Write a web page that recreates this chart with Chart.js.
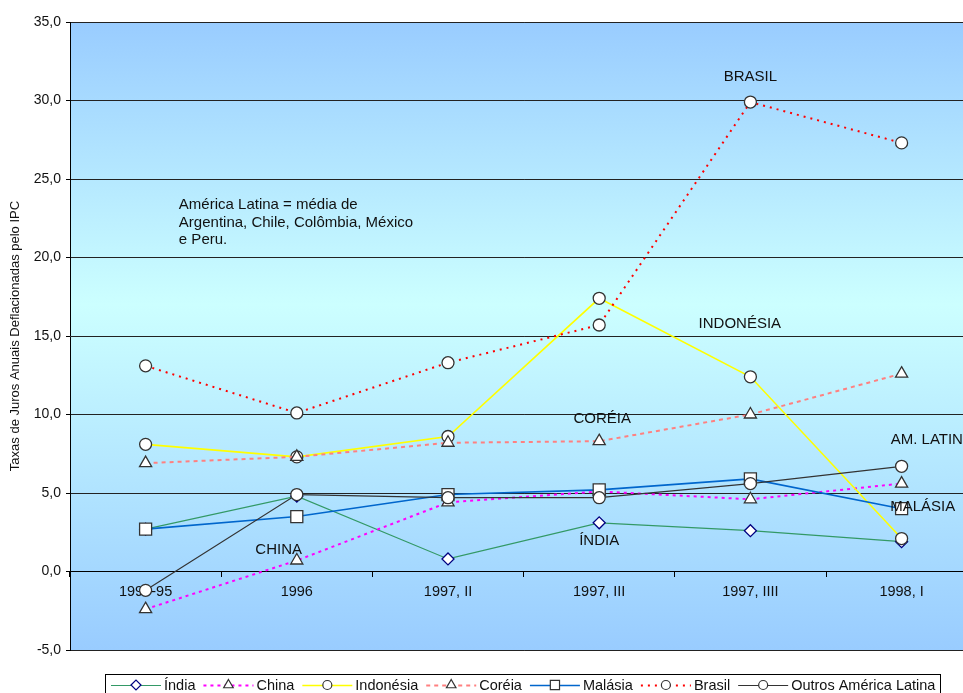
<!DOCTYPE html>
<html>
<head>
<meta charset="utf-8">
<script src="https://cdn.jsdelivr.net/npm/chart.js@4.4.0/dist/chart.umd.min.js"></script>
<style>
  html, body { margin: 0; padding: 0; background: #fff; overflow: hidden; }
  #wrap { width: 987px; height: 693px; }
</style>
</head>
<body>
<div id="wrap"><canvas id="chart" width="987" height="693"></canvas></div>
<script>
// Taxas de juros anuais deflacionadas pelo IPC, 1990-95 a 1998 I

const periods = ['1990-95', '1996', '1997, II', '1997, III', '1997, IIII', '1998, I'];

const india     = [2.7, 4.8, 0.8, 3.1, 2.6, 1.9];
const china     = [-2.4, 0.7, 4.4, 5.1, 4.6, 5.6];
const indonesia = [8.1, 7.3, 8.6, 17.4, 12.4, 2.1];
const coreia    = [6.9, 7.3, 8.2, 8.3, 10.0, 12.6];
const malasia   = [2.7, 3.5, 4.9, 5.2, 5.9, 4.0];
const brasil    = [13.1, 10.1, 13.3, 15.7, 29.9, 27.3];
const outrosAL  = [-1.2, 4.9, 4.7, 4.7, 5.6, 6.7];

// text boxes inside the plot, anchored on category index / value
const notes = [
  { text: 'BRASIL', x: 4, y: 31.5 },
  { text: 'INDONÉSIA', x: 3.93, y: 15.75 },
  { text: 'CORÉIA', x: 3.02, y: 9.75 },
  { text: 'AM. LATINA', x: 5.2, y: 8.4 },
  { text: 'MALÁSIA', x: 5.14, y: 4.1 },
  { text: 'ÍNDIA', x: 3.0, y: 1.95 },
  { text: 'CHINA', x: 0.88, y: 1.4 }
];
const note = ['América Latina = média de', 'Argentina, Chile, Colômbia, México', 'e Peru.'];

const FONT = 'Liberation Sans, Arial, sans-serif';

function series(label, data, color, opts) {
  return Object.assign({
    label: label,
    data: data,
    borderColor: color,
    backgroundColor: color,
    borderWidth: 1.2,
    pointRadius: 6,
    pointHoverRadius: 6,
    pointBackgroundColor: '#fff',
    pointBorderColor: '#333',
    pointBorderWidth: 1.3,
    pointStyle: 'circle',
    legendRadius: 4.5,
    tension: 0
  }, opts);
}

const datasets = [
  series('Índia', india, '#339966', { pointStyle: 'rectRot', pointRadius: 6, pointHoverRadius: 6, pointBorderColor: '#000080', legendRadius: 5 }),
  series('China', china, '#FF00FF', { borderWidth: 2, borderDash: [3, 4], pointStyle: 'triangle', pointRadius: 7, pointHoverRadius: 7, legendRadius: 5.5 }),
  series('Indonésia', indonesia, '#FFFF00', { borderWidth: 1.6 }),
  series('Coréia', coreia, '#FF8080', { borderWidth: 2, borderDash: [4, 4], pointStyle: 'triangle', pointRadius: 7, pointHoverRadius: 7, legendRadius: 5.5 }),
  series('Malásia', malasia, '#0066CC', { borderWidth: 1.6, pointStyle: 'rect', pointRadius: 8.5, pointHoverRadius: 8.5, legendRadius: 6.5 }),
  series('Brasil', brasil, '#FF0000', { borderWidth: 2, borderDash: [2, 5] }),
  series('Outros América Latina', outrosAL, '#333333', {})
];
// later series on top, like the original
datasets.forEach((d, i) => { d.order = datasets.length - i; });

const bgPlugin = {
  id: 'bg',
  beforeDraw(chart) {
    const { ctx, chartArea: a } = chart;
    const g = ctx.createLinearGradient(0, a.top, 0, a.bottom);
    g.addColorStop(0, '#99CCFF');
    g.addColorStop(0.45, '#CCFFFF');
    g.addColorStop(1, '#99CCFF');
    ctx.save();
    ctx.fillStyle = g;
    ctx.fillRect(a.left, a.top, a.right - a.left, a.bottom - a.top);
    ctx.restore();
  }
};

const textPlugin = {
  id: 'texts',
  afterDatasetsDraw(chart) {
    const { ctx, scales } = chart;
    const x = scales.x, y = scales.y;
    const step = x.getPixelForValue(1) - x.getPixelForValue(0);
    ctx.save();
    ctx.font = '15px ' + FONT;
    ctx.fillStyle = '#111';
    ctx.textBaseline = 'middle';
    ctx.textAlign = 'center';
    notes.forEach(n => {
      ctx.fillText(n.text, x.getPixelForValue(0) + n.x * step, y.getPixelForValue(n.y));
    });
    ctx.textAlign = 'left';
    const nx = x.getPixelForValue(0) + 0.22 * step;
    note.forEach((t, i) => ctx.fillText(t, nx, y.getPixelForValue(23.35) + i * 17.7));
    ctx.restore();
  }
};

const legendPlugin = {
  id: 'boxLegend',
  afterDraw(chart) {
    const ctx = chart.ctx;
    const sample = 50, gapIn = 3, gapOut = 8;
    const cy = 685;
    ctx.save();
    ctx.font = '14.5px ' + FONT;
    ctx.strokeStyle = '#000';
    ctx.lineWidth = 1;
    ctx.strokeRect(105.5, 674.5, 835, 30);
    let x = 111;
    datasets.forEach(d => {
      ctx.save();
      ctx.strokeStyle = d.borderColor;
      ctx.lineWidth = d.borderWidth;
      ctx.setLineDash(d.borderDash || []);
      ctx.beginPath();
      ctx.moveTo(x, cy + 0.5);
      ctx.lineTo(x + sample, cy + 0.5);
      ctx.stroke();
      ctx.setLineDash([]);
      ctx.fillStyle = '#fff';
      ctx.strokeStyle = d.pointBorderColor;
      ctx.lineWidth = 1.2;
      Chart.helpers.drawPoint(ctx, { pointStyle: d.pointStyle, radius: d.legendRadius, rotation: 0, borderWidth: 1.2 }, x + sample / 2, cy);
      ctx.restore();
      x += sample + gapIn;
      ctx.fillStyle = '#111';
      ctx.textBaseline = 'middle';
      ctx.textAlign = 'left';
      ctx.fillText(d.label, x, cy + 1);
      x += ctx.measureText(d.label).width + gapOut;
    });
    ctx.restore();
  }
};

new Chart(document.getElementById('chart'), {
  type: 'line',
  data: { labels: periods, datasets: datasets },
  plugins: [bgPlugin, textPlugin, legendPlugin],
  options: {
    responsive: false,
    animation: false,
    layout: { padding: { top: 22, bottom: 43, left: 0, right: 0 } },
    plugins: { legend: { display: false }, tooltip: { enabled: false } },
    scales: {
      x: {
        type: 'category',
        offset: true,
        position: { y: 0 },
        grid: { offset: true, drawOnChartArea: false, drawTicks: true, tickLength: 5, tickColor: '#000' },
        border: { display: true, color: '#000', width: 1 },
        ticks: { color: '#111', font: { family: FONT, size: 14.5 }, padding: 7, maxRotation: 0, autoSkip: false }
      },
      y: {
        min: -5,
        max: 35,
        afterFit(scale) { scale.width = 70; },
        ticks: {
          stepSize: 5,
          color: '#111',
          font: { family: FONT, size: 14 },
          padding: 5,
          callback: v => v.toFixed(1).replace('.', ',')
        },
        grid: { color: '#222', lineWidth: 1, tickLength: 4, tickColor: '#000' },
        border: { display: true, color: '#000', width: 1 },
        title: {
          display: true,
          text: 'Taxas de Juros Anuais Deflacionadas pelo IPC',
          color: '#111',
          font: { family: FONT, size: 13 },
          padding: { top: 8, bottom: 0 }
        }
      }
    }
  }
});
</script>
</body>
</html>
